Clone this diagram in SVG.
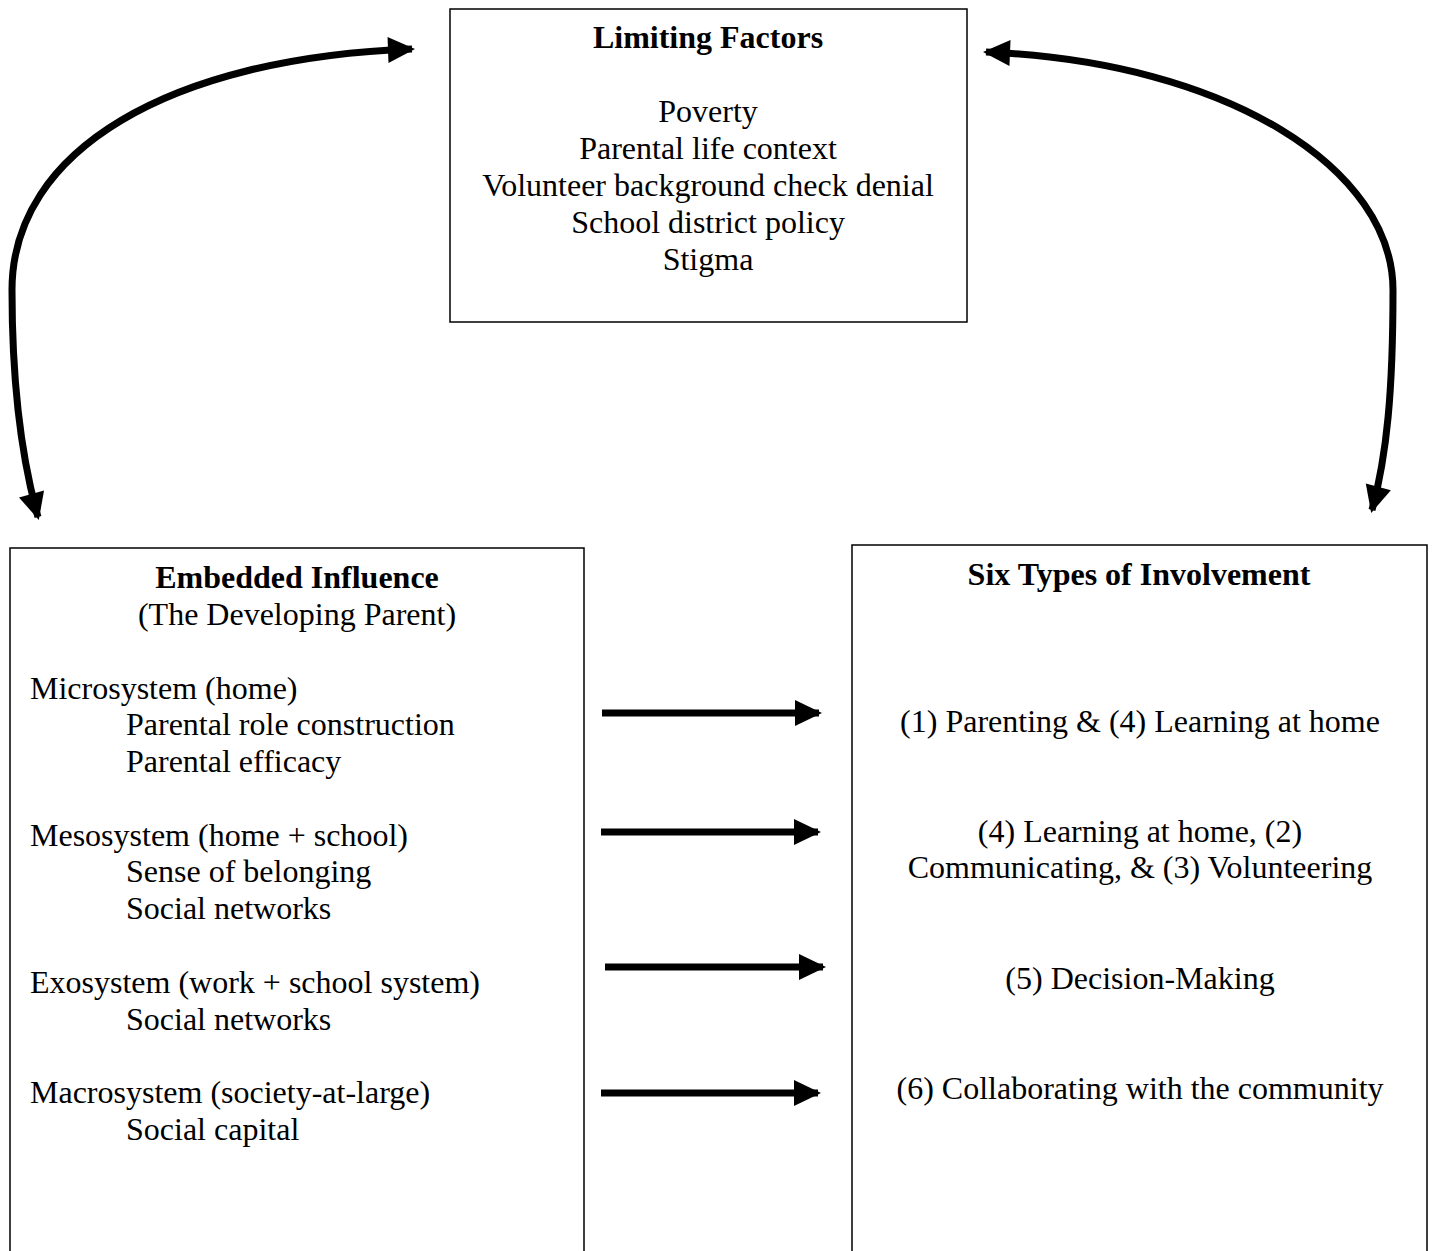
<svg xmlns="http://www.w3.org/2000/svg" width="1432" height="1251" viewBox="0 0 1432 1251">
<style>
.box{fill:#fff;stroke:#000;stroke-width:1.5}
.t{font-family:"Liberation Serif","Times New Roman",serif;font-size:32px;fill:#000}
.b{font-weight:bold}
.c{text-anchor:middle}
.con{fill:none;stroke:#000;stroke-width:7}
</style>
<defs>
<marker id="ah" markerUnits="userSpaceOnUse" markerWidth="30" markerHeight="30" refX="24" refY="13" orient="auto-start-reverse" style="overflow:visible">
<path d="M0,0 L27,13 L0,26 Z" fill="#000"/>
</marker>
</defs>
<g id="limiting">
<rect class="box" x="450" y="9" width="517" height="313"/>
<text class="t b c" x="708" y="48">Limiting Factors</text>
<text class="t c" x="708" y="122">Poverty</text>
<text class="t c" x="708" y="159">Parental life context</text>
<text class="t c" x="708" y="196">Volunteer background check denial</text>
<text class="t c" x="708" y="233">School district policy</text>
<text class="t c" x="708" y="270">Stigma</text>
</g>
<g id="embedded">
<path class="box" d="M10,1252 V548 H584 V1252"/>
<text class="t b c" x="297" y="588">Embedded Influence</text>
<text class="t c" x="297" y="625">(The Developing Parent)</text>
<text class="t" x="30" y="699">Microsystem (home)</text>
<text class="t" x="126" y="735">Parental role construction</text>
<text class="t" x="126" y="772">Parental efficacy</text>
<text class="t" x="30" y="846">Mesosystem (home + school)</text>
<text class="t" x="126" y="882">Sense of belonging</text>
<text class="t" x="126" y="919">Social networks</text>
<text class="t" x="30" y="993">Exosystem (work + school system)</text>
<text class="t" x="126" y="1030">Social networks</text>
<text class="t" x="30" y="1103">Macrosystem (society-at-large)</text>
<text class="t" x="126" y="1140">Social capital</text>
</g>
<g id="sixtypes">
<path class="box" d="M852,1252 V545 H1427 V1252"/>
<text class="t b c" x="1139" y="585">Six Types of Involvement</text>
<text class="t c" x="1140" y="732">(1) Parenting &amp; (4) Learning at home</text>
<text class="t c" x="1140" y="842">(4) Learning at home, (2)</text>
<text class="t c" x="1140" y="878">Communicating, &amp; (3) Volunteering</text>
<text class="t c" x="1140" y="989">(5) Decision-Making</text>
<text class="t c" x="1140" y="1099">(6) Collaborating with the community</text>
</g>
<g id="connectors">
<path class="con" marker-start="url(#ah)" marker-end="url(#ah)" d="M412,49 C170,58 12,150 12,290 C12,390 22,460 38,517"/>
<path class="con" marker-start="url(#ah)" marker-end="url(#ah)" d="M986,52 C1230,62 1393,170 1393,290 C1393,390 1387,455 1372,510"/>
<path class="con" marker-end="url(#ah)" d="M602,713 H819"/>
<path class="con" marker-end="url(#ah)" d="M601,832 H818"/>
<path class="con" marker-end="url(#ah)" d="M605,967 H823"/>
<path class="con" marker-end="url(#ah)" d="M601,1093 H818"/>
</g>
</svg>
